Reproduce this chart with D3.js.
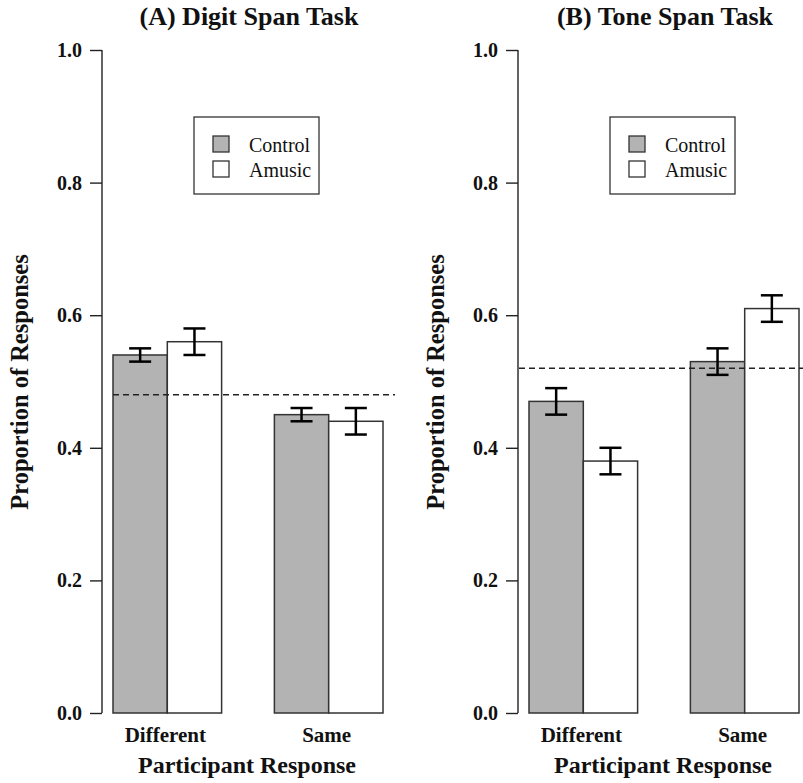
<!DOCTYPE html>
<html>
<head>
<meta charset="utf-8">
<script src="https://cdn.jsdelivr.net/npm/d3@7"></script>
<style>
  body { margin: 0; background: #fff; }
  text { font-family: "Liberation Serif", "DejaVu Serif", serif; fill: #111; }
</style>
</head>
<body>
<div id="chart"></div>
<script>
// data
const categories = ['Different', 'Same'];
const groups = ['Control', 'Amusic'];
const yTicks = [0.0, 0.2, 0.4, 0.6, 0.8, 1.0];

const digitMean = [[0.54, 0.56], [0.45, 0.44]];
const digitLow  = [[0.53, 0.54], [0.44, 0.42]];
const digitHigh = [[0.55, 0.58], [0.46, 0.46]];
const digitRef = 0.48;

const toneMean = [[0.47, 0.38], [0.53, 0.61]];
const toneLow  = [[0.45, 0.36], [0.51, 0.59]];
const toneHigh = [[0.49, 0.40], [0.55, 0.63]];
const toneRef = 0.52;

const fills = {Control: '#b3b3b3', Amusic: '#ffffff'};
const ink = '#222';

const W = 803, H = 783;
const svg = d3.select('#chart').append('svg')
  .attr('width', W)
  .attr('height', H);

const y = d3.scaleLinear().domain([0, 1]).range([713, 50]);

const drawPanel = (opts) => {
  const ax = opts.axisX;
  const g = svg.append('g');

  // group and series scales
  const x0 = d3.scaleBand()
    .domain(categories)
    .range([ax + 11, ax + 281])
    .paddingInner(0.327)
    .paddingOuter(0);
  const x1 = d3.scaleBand()
    .domain(groups)
    .range([0, x0.bandwidth()]);

  // y axis (ticks outside, left)
  const yAxis = g.append('g')
    .attr('transform', 'translate(' + ax + ',0)')
    .call(d3.axisLeft(y).tickValues(yTicks).tickFormat(d3.format('.1f')).tickSize(12).tickPadding(8));
  yAxis.select('.domain').attr('stroke', ink).attr('stroke-width', 1.4).attr('d', 'M0,' + y(0) + 'V' + y(1));
  yAxis.selectAll('.tick line').attr('stroke', ink).attr('stroke-width', 1.4);
  yAxis.selectAll('.tick text')
    .attr('font-family', '"Liberation Serif", serif')
    .attr('font-size', 20)
    .attr('font-weight', 'bold')
    .attr('fill', '#111');

  // bars
  const rows = [];
  categories.forEach((c, i) => {
    groups.forEach((s, j) => {
      rows.push({cat: c, grp: s, v: opts.mean[i][j], lo: opts.low[i][j], hi: opts.high[i][j]});
    });
  });

  g.selectAll('rect.bar')
    .data(rows)
    .enter().append('rect')
    .attr('class', 'bar')
    .attr('x', d => x0(d.cat) + x1(d.grp))
    .attr('y', d => y(d.v))
    .attr('width', x1.bandwidth())
    .attr('height', d => y(0) - y(d.v))
    .attr('fill', d => fills[d.grp])
    .attr('stroke', '#333')
    .attr('stroke-width', 1.5);

  // dashed reference line
  g.append('line')
    .attr('x1', opts.refFrom)
    .attr('x2', opts.refTo)
    .attr('y1', y(opts.ref))
    .attr('y2', y(opts.ref))
    .attr('stroke', ink)
    .attr('stroke-width', 1.5)
    .attr('stroke-dasharray', '6,4');

  // error bars
  const err = g.selectAll('g.err')
    .data(rows)
    .enter().append('g')
    .attr('class', 'err')
    .attr('transform', d => 'translate(' + (x0(d.cat) + x1(d.grp) + x1.bandwidth() / 2) + ',0)');
  err.append('line')
    .attr('y1', d => y(d.lo)).attr('y2', d => y(d.hi))
    .attr('stroke', '#000').attr('stroke-width', 2.5);
  err.append('line')
    .attr('x1', -11).attr('x2', 11)
    .attr('y1', d => y(d.lo)).attr('y2', d => y(d.lo))
    .attr('stroke', '#000').attr('stroke-width', 2.5);
  err.append('line')
    .attr('x1', -11).attr('x2', 11)
    .attr('y1', d => y(d.hi)).attr('y2', d => y(d.hi))
    .attr('stroke', '#000').attr('stroke-width', 2.5);

  // category labels
  g.selectAll('text.cat')
    .data(categories)
    .enter().append('text')
    .attr('class', 'cat')
    .attr('x', d => x0(d) + x0.bandwidth() / 2 - 2)
    .attr('y', 742)
    .attr('text-anchor', 'middle')
    .attr('font-size', 21)
    .attr('font-weight', 'bold')
    .text(d => d);

  // axis titles
  g.append('text')
    .attr('x', ax + 145)
    .attr('y', 773)
    .attr('text-anchor', 'middle')
    .attr('font-size', 24)
    .attr('font-weight', 'bold')
    .text('Participant Response');

  g.append('text')
    .attr('transform', 'translate(' + (ax - 74) + ',' + 382 + ') rotate(-90)')
    .attr('text-anchor', 'middle')
    .attr('font-size', 24.5)
    .attr('font-weight', 'bold')
    .text('Proportion of Responses');

  g.append('text')
    .attr('x', ax + 147)
    .attr('y', 25)
    .attr('text-anchor', 'middle')
    .attr('font-size', 26)
    .attr('font-weight', 'bold')
    .text(opts.title);

  // legend
  const lg = g.append('g').attr('transform', 'translate(' + (ax + 92) + ',117)');
  lg.append('rect')
    .attr('width', 125).attr('height', 77)
    .attr('fill', '#fff').attr('stroke', '#333').attr('stroke-width', 1.3);
  const item = lg.selectAll('g.item')
    .data(groups)
    .enter().append('g')
    .attr('class', 'item')
    .attr('transform', (d, i) => 'translate(19,' + (19 + i * 25) + ')');
  item.append('rect')
    .attr('width', 16).attr('height', 16)
    .attr('fill', d => fills[d])
    .attr('stroke', '#333').attr('stroke-width', 1.3);
  item.append('text')
    .attr('x', 36).attr('y', 16)
    .attr('font-size', 20)
    .text(d => d);
};

drawPanel({
  axisX: 102, title: '(A) Digit Span Task',
  mean: digitMean, low: digitLow, high: digitHigh,
  ref: digitRef, refFrom: 113, refTo: 395
});
drawPanel({
  axisX: 518, title: '(B) Tone Span Task',
  mean: toneMean, low: toneLow, high: toneHigh,
  ref: toneRef, refFrom: 519, refTo: 803
});
</script>
</body>
</html>
